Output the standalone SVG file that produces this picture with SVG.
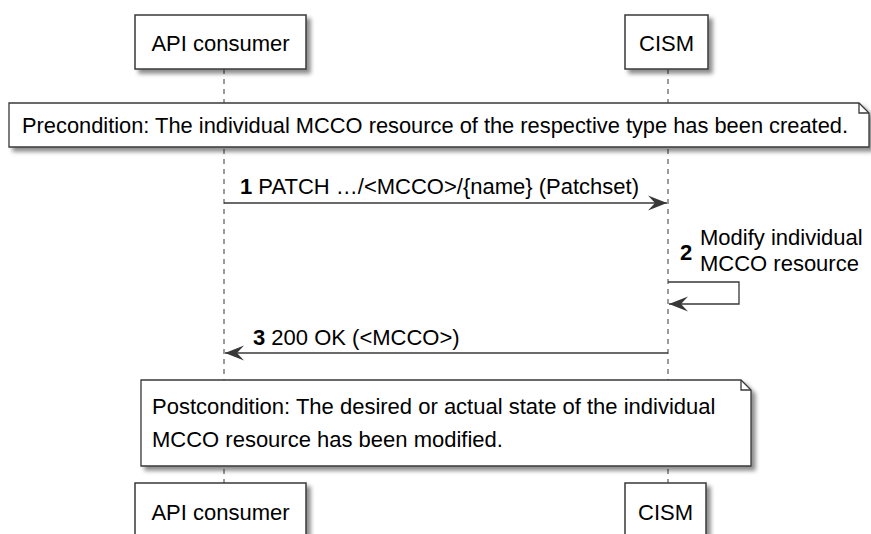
<svg xmlns="http://www.w3.org/2000/svg" width="871" height="534" viewBox="0 0 871 534">
<defs>
<filter id="sh" x="-10%" y="-10%" width="130%" height="140%">
<feDropShadow dx="4" dy="4" stdDeviation="2" flood-color="#000" flood-opacity="0.45"/>
</filter>
<marker id="ah" viewBox="0 0 20 16" refX="19" refY="8" markerWidth="20" markerHeight="16" markerUnits="userSpaceOnUse" orient="auto">
<polygon points="19,8 0,0.5 7,8 0,15.5" fill="#383838"/>
</marker>
</defs>
<style>
text{font-family:"Liberation Sans",Arial,sans-serif;font-size:22px;fill:#000}
.box{fill:#fff;stroke:#383838;stroke-width:1.5;filter:url(#sh)}
.note{fill:#fff;stroke:#383838;stroke-width:1.3;filter:url(#sh)}
.fold{fill:none;stroke:#383838;stroke-width:1.3}
.life{stroke:#383838;stroke-width:1;stroke-dasharray:5,5}
.msg{fill:none;stroke:#383838;stroke-width:1.3;marker-end:url(#ah)}
.b{font-weight:bold}
</style>
<g id="lifelines">
<line class="life" x1="224" y1="69" x2="224" y2="483"/>
<line class="life" x1="668" y1="69" x2="668" y2="483"/>
</g>
<g id="p-api-top">
<rect class="box" x="135" y="15" width="171" height="54"/>
<text x="220.5" y="51" text-anchor="middle">API consumer</text>
</g>
<g id="p-cism-top">
<rect class="box" x="625" y="15" width="83" height="54"/>
<text x="666.5" y="51" text-anchor="middle">CISM</text>
</g>
<g id="note-pre">
<path class="note" d="M9,103 H859 L869,113 V147 H9 Z"/>
<path class="fold" d="M859,103 V113 H869"/>
<text x="22" y="133" textLength="826" lengthAdjust="spacingAndGlyphs">Precondition: The individual MCCO resource of the respective type has been created.</text>
</g>
<g id="connectors">
<line class="msg" x1="224" y1="203" x2="667" y2="203"/>
<path class="msg" d="M668,282 H739 V304 H669"/>
<line class="msg" x1="668" y1="353" x2="225" y2="353"/>
</g>
<g id="labels">
<text x="240" y="194"><tspan class="b">1</tspan> PATCH …/&lt;MCCO&gt;/{name} (Patchset)</text>
<text class="b" x="680" y="260">2</text>
<text x="700" y="245">Modify individual</text>
<text x="700" y="271">MCCO resource</text>
<text x="253" y="345"><tspan class="b">3</tspan> 200 OK (&lt;MCCO&gt;)</text>
</g>
<g id="note-post">
<path class="note" d="M141,380 H741 L751,390 V466 H141 Z"/>
<path class="fold" d="M741,380 V390 H751"/>
<text x="152" y="414">Postcondition: The desired or actual state of the individual</text>
<text x="152" y="447">MCCO resource has been modified.</text>
</g>
<g id="p-api-bottom">
<rect class="box" x="135" y="483" width="171" height="56"/>
<text x="220.5" y="520" text-anchor="middle">API consumer</text>
</g>
<g id="p-cism-bottom">
<rect class="box" x="625" y="483" width="81" height="56"/>
<text x="665.5" y="520" text-anchor="middle">CISM</text>
</g>
</svg>
